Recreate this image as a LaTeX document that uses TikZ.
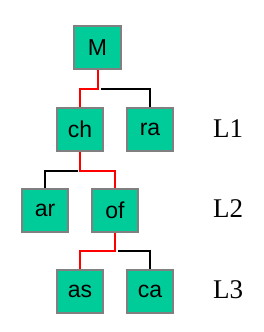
\documentclass[tikz,border=0pt]{standalone}
\usepackage{fontspec}
\setmainfont{Liberation Sans}
\newfontfamily\lvlfont{Liberation Serif}
\usetikzlibrary{calc}
\definecolor{boxfill}{RGB}{0,204,153}
\definecolor{boxline}{RGB}{128,128,128}
\tikzset{
  treebox/.style={draw=boxline, line width=2pt, fill=boxfill, minimum width=46pt, minimum height=43pt, inner sep=0pt, font=\fontsize{23}{23}\selectfont},
  lvl/.style={font=\lvlfont\fontsize{27}{27}\selectfont, inner sep=0pt},
  redline/.style={draw=red, line width=2pt},
  blkline/.style={draw=black, line width=2pt}
}
\begin{document}
\begin{tikzpicture}[x=1pt,y=-1pt]
\useasboundingbox (0,0) rectangle (264,332);
\node[treebox, minimum width=47pt] (M) at (97.5,47.5) {M};
\node[treebox] (ch) at (80,129.5) {ch};
\node[treebox] (ra) at (150,129.5) {ra};
\node[treebox] (ar) at (45,210.5) {ar};
\node[treebox] (of) at (115,210.5) {of};
\node[treebox] (as) at (80,291) {as};
\node[treebox] (ca) at (150,291) {ca};
\node[lvl] (L1) at (228,129) {L1};
\node[lvl] (L2) at (228,209) {L2};
\node[lvl] (L3) at (228,290) {L3};
% level 1
\draw[blkline] (ra.north) |- ($(M.south)+(3.5,19)$);
\draw[redline] (M.south) -- ++(0,19) -| (ch.north);
% level 2
\draw[blkline] (ar.north) |- ($(ch.south)+(-2,19)$);
\draw[redline] (ch.south) -- ++(0,19) -| (of.north);
% level 3
\draw[blkline] (ca.north) |- ($(of.south)+(3,18)$);
\draw[redline] (of.south) -- ++(0,18) -| (as.north);
\end{tikzpicture}
\end{document}
